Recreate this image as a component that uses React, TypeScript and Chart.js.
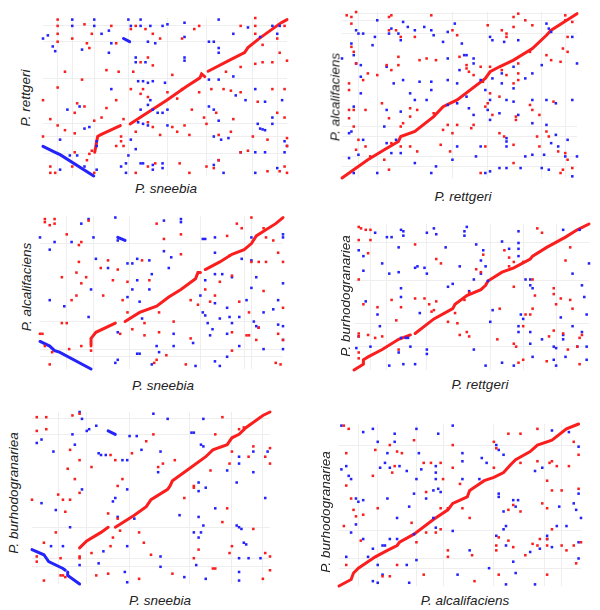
import React, { useEffect, useRef } from "react";
import { Chart, registerables } from "chart.js";
Chart.register(...registerables);

type P = [number, number];

// genome names
const GENOMES = ["P. sneebia", "P. rettgeri", "P. alcalifaciens", "P. burhodogranariea"];

// ---------- Panel 1: P. sneebia (x) vs P. rettgeri (y) ----------
const P1_DIAG: P[][] = [
  [[21.2,15],[22.4,25],[23.5,26],[31.7,31.9]],
  [[35.7,32.9],[41.2,38.5],[50.7,47.9],[58.8,56.7],[64.3,62.1],[65,64.6],[66.3,62.9]],
  [[67.7,66.3],[76.5,73.3],[82.6,78.1],[84,81.3],[88.7,87.1],[97.5,96.9],[100,99]],
];
const P1_INV: P[][] = [
  [[0,18.75],[5,15],[7,13.5],[20.8,0]],
  [[33,87],[35.5,85]],
];
const P1_RED: P[] = [[6,99],[6,95],[6,90],[6,85],[12,87],[17,96],[20,90],[18,84],[19,81],[28,95],[30,84],[36,93],[38,95],[42,93],[45,90],[48,87],[57,87],[62,93],[64,95],[81,95],[87,100],[87,95],[87,90],[96,87],[99,95],[90,83],[97,78],[100,73],[87,71],[90,72],[94,72],[81,69],[75,66],[53,64],[45,70],[43,75],[40,72],[37,66],[26,67],[31,66],[9,66],[0,48],[6,56],[16,61],[14,46],[17,44],[13,40],[26,43],[30,48],[36,55],[41,55],[40,52],[43,50],[51,53],[55,49],[57,55],[61,42],[64,53],[69,55],[74,55],[77,54],[81,53],[94,55],[99,55],[88,47],[96,40],[99,37],[71,40],[77,28],[86,25],[92,23],[100,24],[3,36],[6,32],[9,29],[13,27],[21,35],[24,37],[33,36],[38,28],[43,34],[45,31],[48,26],[55,28],[60,26],[58,32],[66,37],[67,33],[72,26],[78,36],[0,25],[3,6],[3,2],[5,2],[12,6],[13,15],[19,14],[20,16],[18,10],[38,2],[43,6],[46,8],[56,8],[60,2],[67,6],[70,5],[72,10],[81,15],[84,16],[92,3],[97,3],[99,6],[100,2],[100,19],[32,25],[32,22],[33,19],[30,19],[53,31],[21,2]];
const P1_BLUE: P[] = [[0,87],[2,89],[4,82],[5,79],[12,95],[12,99],[16,80],[21,99],[21,95],[24,90],[27,92],[27,78],[28,84],[35,99],[36,95],[40,99],[40,95],[44,95],[46,84],[43,85],[49,95],[51,96],[58,97],[58,88],[72,99],[68,85],[70,85],[72,81],[72,78],[78,90],[84,94],[89,88],[94,95],[97,95],[96,90],[38,72],[38,75],[42,72],[58,75],[58,73],[39,60],[41,60],[43,59],[45,60],[50,59],[68,61],[72,61],[78,63],[40,42],[43,45],[44,48],[45,42],[47,40],[49,40],[51,42],[39,34],[41,33],[43,32],[51,32],[28,55],[10,42],[15,44],[22,19],[19,31],[17,30],[22,22],[68,44],[70,42],[72,35],[87,55],[79,51],[83,48],[91,47],[98,48],[88,33],[89,30],[90,29.5],[91,29],[94,37],[94,33],[99,22],[100,19],[70,25],[73,23],[76,24],[81,15],[87,15],[91,15],[99,15],[7,23],[7,4],[11,13],[14,13],[36,23],[40,8],[41,8],[45,7],[49,8],[49,5],[45,4],[32,6],[34,8],[34,2],[70,7],[72,10],[74,2],[87,2],[96,5],[17,6],[22,4],[35,13],[38,17]];
const P1_GRID_X = [6, 12, 21, 35, 51, 67, 86, 96];
const P1_GRID_Y = [95, 85, 62, 33, 25, 14];

// ---------- Panel 2: P. rettgeri (x) vs P. alcalifaciens (y) ----------
const P2_DIAG: P[][] = [
  [[0,0],[11,11],[18,17],[24,22],[25,25],[31,28],[39,37],[43,43],[49,47],[61,60],[63,64],[67,67],[73,71],[81,78],[87,86],[89,89],[100,99]],
];
const P2_INV: P[][] = [];
const P2_RED: P[] = [[2,98],[4,97],[6,100],[4,93],[20,97],[21,98],[20,89],[23,89],[25,85],[31,85],[38,98],[47,89],[49,86],[62,92],[68,89],[70,87],[70,85],[73,91],[73,97],[75,99],[78,95],[81,92],[95,98],[95,95],[98,94],[96,85],[94,78],[96,76],[89,71],[93,70],[87,74],[80,76],[75,69],[75,63],[75,59],[73,57],[68,65],[70,62],[63,67],[59,67],[53,66],[54,64],[56,62],[60,58],[63,51],[67,49],[64,38],[62,45],[61,43],[74,37],[74,35],[80,44],[81,41],[84,38],[90,46],[83,25],[87,28],[88,25],[92,16],[95,15],[96,11],[94,5],[98,6],[93,3],[59,3],[73,9],[84,19],[73,20],[69,25],[67,27],[61,19],[56,32],[55,30],[49,32],[45,32],[43,29],[47,27],[46,16],[42,20],[32,16],[29,19],[25,19],[21,21],[20,5],[18,11],[12,13],[7,23],[6,17],[5,31],[3,41],[3,36],[5,41],[10,41],[10,19],[20,36],[25,31],[17,45],[21,65],[24,73],[24,68],[33,71],[36,72],[40,71],[50,73],[53,68],[3,57],[3,53],[4,79],[5,76],[6,69],[9,59],[11,63],[15,62],[19,68],[29,42],[26,33],[32,41],[29,37],[39,39]];
const P2_BLUE: P[] = [[0,72],[4,81],[6,89],[7,87],[9,87],[5,74],[6,69],[8,68],[13,80],[14,85],[15,95],[20,87],[21,90],[24,87],[25,83],[26,94],[28,91],[31,89],[35,91],[38,89],[39,86],[45,88],[48,93],[43,82],[45,72],[51,81],[52,74],[53,74],[56,72],[56,69],[63,85],[64,83],[69,82],[75,83],[87,93],[88,90],[89,88],[98,85],[100,69],[85,68],[81,63],[78,60],[73,67],[73,54],[68,57],[68,63],[64,60],[59,59],[61,53],[50,65],[49,57],[45,59],[38,58],[33,58],[29,51],[26,59],[22,57],[19,67],[8,61],[8,51],[5,43],[4,28],[3,27],[9,23],[7,14],[3,12],[5,3],[15,3],[19,21],[23,23],[18,31],[19,41],[25,40],[31,47],[36,47],[38,53],[45,44],[49,45],[53,49],[54,42],[56,38],[62,41],[63,47],[63,35],[67,39],[70,47],[73,46],[75,38],[81,47],[87,47],[91,45],[98,47],[81,33],[87,32],[89,21],[91,26],[95,13],[100,13],[96,23],[92,19],[86,14],[81,14],[78,13],[70,24],[70,22],[70,19],[70,6],[67,6],[63,4],[61,3],[59,19],[57,13],[49,19],[47,11],[38,3],[40,7],[31,9],[25,15],[21,15],[76,6],[98,1],[85,6],[88,5]];
const P2_GRID_X = [7, 15, 47, 62, 85, 95];
const P2_GRID_Y = [99, 95, 87, 31, 25, 13, 7];

// ---------- Panel 3: P. sneebia (x) vs P. alcalifaciens (y) ----------
const P3_DIAG: P[][] = [
  [[21,16],[21,20],[23,24],[31,30]],
  [[35,31],[41,37],[48,41],[53,47],[58,52],[64,59],[65,63],[66,63]],
  [[68,65],[74,70],[79,75],[84,78],[87,82],[89,87],[92,90],[97,95],[100,99]],
];
const P3_INV: P[][] = [
  [[0,18],[4,15],[6,12],[8,11],[21,0]],
  [[32,86],[35,84]],
];
const P3_RED: P[] = [[2,98],[2,96],[6,98],[4,94],[6,95],[11,88],[17,83],[16,81],[20,97],[16,70],[15,63],[9,60],[19,60],[17,56],[13,45],[15,48],[2,15],[5,11],[4,3],[21,12],[21,15],[17,15],[12,13],[11,30],[9,30],[25,66],[28,71],[32,65],[30,58],[36,57],[26,48],[36,37],[38,26],[42,71],[51,85],[58,88],[45,58],[43,30],[43,22],[49,24],[48,6],[47,4],[52,9],[60,3],[62,20],[62,45],[65,42],[68,52],[70,44],[72,48],[74,57],[77,87],[78,74],[81,95],[83,92],[87,99],[92,92],[93,86],[96,84],[98,76],[100,70],[87,70],[90,70],[93,70],[92,51],[86,37],[82,44],[79,24],[79,12],[86,22],[89,19],[90,27],[98,23],[100,19],[100,40],[97,4],[99,3],[55,31],[49,37],[79,61],[85,22],[34,45],[33,23],[48,95],[58,75],[0,23],[1,23]];
const P3_BLUE: P[] = [[0,86],[4,45],[6,83],[4,78],[10,41],[13,83],[17,95],[20,98],[22,86],[21,52],[20,34],[23,72],[31,99],[32,84],[28,66],[32,24],[32,6],[31,4],[36,69],[38,69],[40,72],[38,52],[36,47],[40,58],[41,44],[42,33],[46,62],[45,52],[51,77],[54,73],[53,66],[58,98],[58,96],[51,97],[45,71],[40,10],[41,10],[49,11],[48,15],[46,3],[55,15],[55,23],[67,85],[68,85],[72,86],[72,76],[72,62],[68,58],[66,48],[67,37],[68,35],[69,30],[72,43],[74,33],[77,40],[78,34],[79,30],[71,26],[70,22],[77,23],[75,62],[79,60],[82,34],[83,72],[87,71],[87,53],[88,31],[89,28],[90,27],[92,37],[96,39],[100,19],[100,13],[100,56],[100,88],[100,86],[98,45],[98,29],[100,28],[92,13],[82,15],[63,17],[64,2],[72,5],[74,2],[87,86],[85,45],[89,60],[77,8]];
const P3_GRID_X = [11, 22, 37, 66, 84, 87];
const P3_GRID_Y = [82, 31, 13, 8];

// ---------- Panel 4: P. rettgeri (x) vs P. burhodogranariea (y) ----------
const P4_DIAG: P[][] = [
  [[0,0],[4,4],[4,7],[6,9],[12,14],[19,21],[24,24]],
  [[26,25],[34,35],[42,42],[43,45],[48,51],[54,55],[56,58],[57,61],[63,67],[68,70],[75,76],[76,78],[82,84],[90,91],[95,96],[100,100]],
];
const P4_INV: P[][] = [];
const P4_RED: P[] = [[2,98],[3,97],[5,96],[7,96],[2,89],[7,89],[6,80],[2,62],[4,45],[2,25],[2,23],[2,12],[2,8],[6,24],[10,43],[9,22],[12,23],[16,48],[18,34],[20,43],[19,14],[26,86],[26,49],[30,49],[32,45],[33,40],[34,41],[35,47],[35,76],[37,73],[40,33],[43,39],[44,32],[45,24],[47,48],[48,26],[49,23],[49,53],[52,69],[54,67],[55,79],[61,21],[62,42],[64,82],[66,77],[66,71],[68,18],[69,16],[72,30],[73,38],[70,5],[72,7],[75,38],[76,42],[77,51],[78,97],[80,94],[85,56],[85,52],[86,45],[88,49],[85,27],[83,23],[82,6],[89,25],[90,75],[92,48],[93,42],[95,16],[96,4],[96,22],[97,24],[91,14],[92,84],[72,74],[76,62],[68,57],[68,74]];
const P4_BLUE: P[] = [[2,82],[4,78],[4,68],[5,47],[7,16],[1,15],[2,23],[9,94],[10,38],[11,30],[12,73],[14,91],[15,66],[16,91],[19,84],[20,96],[21,95],[21,92],[19,67],[20,56],[20,50],[20,22],[22,22],[23,22],[19,12],[15,3],[21,4],[26,4],[24,16],[26,70],[27,71],[31,94],[31,66],[30,70],[28,39],[31,14],[31,11],[34,97],[35,93],[39,84],[40,57],[42,59],[45,71],[47,95],[47,92],[48,98],[52,86],[55,82],[54,75],[51,62],[54,66],[56,71],[49,54],[57,61],[59,41],[58,33],[51,14],[56,3],[63,88],[66,83],[70,87],[70,95],[70,78],[73,62],[75,62],[75,58],[76,56],[71,38],[72,35],[70,30],[70,26],[75,26],[75,18],[76,9],[80,21],[85,16],[86,15],[85,7],[86,3],[89,24],[89,21],[90,9],[95,16],[99,16],[99,7],[93,30],[97,26],[99,38],[93,66],[97,58],[98,50],[100,73],[89,96],[96,96],[68,3],[63,5],[88,36],[70,83]];
const P4_GRID_X = [7, 14, 31, 58, 72, 86];
const P4_GRID_Y = [87, 61, 32, 16];

// ---------- Panel 5: P. sneebia (x) vs P. burhodogranariea (y) ----------
const P5_DIAG: P[][] = [
  [[20,21],[23,25],[29,30],[32,33]],
  [[35,33],[43,40],[48,45],[50,49],[57,55],[58,57],[59,60],[65,66],[73,74],[76,78],[82,81],[84,85],[87,87],[90,91],[97,98],[100,100]],
];
const P5_INV: P[][] = [
  [[0,20],[5,17],[7,13],[13,9],[14,8]],
  [[15,7],[15,5],[20,0]],
  [[32,89],[35,87]],
];
const P5_RED: P[] = [[2,97],[6,97],[2,89],[6,90],[17,98],[20,99],[16,78],[20,72],[15,67],[18,61],[20,53],[11,52],[13,49],[16,49],[0,49],[14,42],[10,30],[5,24],[12,15],[20,16],[20,15],[14,4],[5,2],[2,16],[2,13],[25,68],[33,75],[35,72],[38,61],[36,57],[32,41],[36,38],[37,31],[34,27],[33,22],[42,76],[48,83],[51,87],[53,68],[55,70],[60,72],[64,50],[68,57],[68,56],[68,15],[70,20],[76,9],[77,9],[75,66],[77,87],[80,97],[87,90],[89,91],[93,80],[100,79],[91,74],[98,74],[100,70],[83,70],[84,77],[82,44],[80,36],[84,22],[83,18],[93,32],[98,18],[100,16],[100,8],[97,3],[59,6],[45,3],[50,17],[47,24],[45,30],[27,5],[32,6],[25,18],[12,5],[13,5]];
const P5_BLUE: P[] = [[2,82],[4,84],[9,77],[17,87],[18,81],[20,100],[21,96],[23,89],[24,90],[27,92],[21,55],[4,47],[10,43],[16,33],[13,22],[28,76],[29,75],[31,75],[35,50],[34,48],[36,39],[38,72],[40,72],[41,86],[44,86],[46,78],[40,55],[43,38],[51,99],[57,96],[54,77],[53,65],[62,40],[67,88],[68,88],[72,96],[71,81],[72,80],[70,59],[70,54],[73,56],[77,44],[82,66],[87,74],[87,70],[93,65],[93,77],[99,77],[98,50],[86,59],[86,34],[87,33],[88,32],[89,24],[90,23],[91,15],[87,15],[96,15],[87,7],[87,2],[70,39],[72,34],[71,30],[68,30],[70,27],[73,3],[69,11],[64,4],[54,16],[54,10],[39,7],[40,1],[28,12],[30,19],[8,22],[40,22],[20,11]];
const P5_GRID_X = [11, 23, 41, 66, 84, 97];
const P5_GRID_Y = [96, 87, 33, 15, 10];

// ---------- Panel 6: P. alcalifaciens (x) vs P. burhodogranariea (y) ----------
const P6_DIAG: P[][] = [
  [[0,0],[5,4],[6,8],[8,11],[15,18],[20,22],[24,25],[25,27],[31,32],[39,41],[45,47],[47,51],[53,55],[54,59],[60,65],[64,67],[68,70],[71,75],[73,78],[79,83],[82,87],[88,90],[94,97],[99,100]],
];
const P6_INV: P[][] = [];
const P6_RED: P[] = [[2,99],[4,97],[3,82],[3,62],[5,54],[6,47],[7,43],[2,37],[3,13],[9,28],[10,44],[15,84],[14,68],[16,48],[21,87],[22,70],[23,74],[24,83],[26,82],[31,90],[35,76],[36,58],[38,76],[42,76],[43,66],[42,48],[45,48],[51,48],[54,42],[50,63],[47,73],[47,87],[55,19],[56,3],[45,18],[45,22],[42,35],[40,33],[36,33],[32,27],[30,39],[24,13],[35,7],[21,6],[18,6],[64,89],[65,85],[64,73],[70,94],[75,94],[75,76],[82,97],[87,76],[88,77],[90,74],[95,74],[82,77],[86,65],[88,59],[92,59],[99,60],[97,89],[99,81],[84,51],[86,48],[88,35],[86,29],[86,25],[83,29],[82,25],[80,26],[92,25],[94,22],[97,25],[98,14],[100,27],[86,7],[66,7],[65,25],[65,22],[66,30],[72,50],[70,47],[70,28],[75,46],[72,24],[77,19]];
const P6_BLUE: P[] = [[1,99],[10,95],[14,97],[23,94],[23,89],[20,82],[16,89],[19,76],[21,73],[25,74],[28,71],[32,97],[33,82],[34,72],[32,66],[41,94],[40,74],[40,70],[40,66],[41,60],[42,58],[47,99],[51,82],[51,77],[51,66],[39,59],[36,54],[31,57],[29,49],[24,42],[20,54],[17,73],[10,53],[8,52],[5,66],[4,68],[1,72],[3,74],[7,54],[7,38],[5,33],[3,18],[10,29],[12,18],[14,23],[16,13],[18,25],[19,25],[18,7],[14,3],[16,2],[21,29],[24,29],[28,13],[29,2],[32,16],[31,32],[39,42],[40,36],[47,34],[49,7],[54,22],[61,76],[65,87],[66,84],[68,81],[66,57],[66,55],[68,46],[69,37],[68,35],[65,31],[72,53],[74,53],[73,49],[69,25],[72,15],[73,8],[69,1],[79,21],[81,1],[84,73],[81,71],[88,96],[95,95],[99,86],[86,31],[86,29],[83,23],[88,24],[99,17],[99,57],[98,47],[97,51],[99,27],[100,42],[91,49],[90,37],[94,37],[59,79],[58,66],[62,11]];
const P6_GRID_X = [8, 16, 32, 43, 64, 85, 92];
const P6_GRID_Y = [87, 34, 17, 11];

const RED = "rgb(250,30,30)";
const BLUE = "rgb(35,35,250)";

type PanelDef = {
  red: P[]; blue: P[]; diag: P[][]; inv: P[][]; gx: number[]; gy: number[];
  xName: string; yName: string;
  box: { l: number; t: number; w: number; h: number };
  xLab: { x: number; y: number }; yLab: { x: number; y: number };
};

const PANELS: PanelDef[] = [
  { red: P1_RED, blue: P1_BLUE, diag: P1_DIAG, inv: P1_INV, gx: P1_GRID_X, gy: P1_GRID_Y, xName: GENOMES[0], yName: GENOMES[1],
    box: { l: 42, t: 17, w: 246, h: 160 }, xLab: { x: 166, y: 188 }, yLab: { x: 25, y: 98 } },
  { red: P2_RED, blue: P2_BLUE, diag: P2_DIAG, inv: P2_INV, gx: P2_GRID_X, gy: P2_GRID_Y, xName: GENOMES[1], yName: GENOMES[2],
    box: { l: 341, t: 11, w: 237, h: 168 }, xLab: { x: 463, y: 196 }, yLab: { x: 335, y: 97 } },
  { red: P3_RED, blue: P3_BLUE, diag: P3_DIAG, inv: P3_INV, gx: P3_GRID_X, gy: P3_GRID_Y, xName: GENOMES[0], yName: GENOMES[2],
    box: { l: 39, t: 215, w: 245, h: 155 }, xLab: { x: 163, y: 385 }, yLab: { x: 26, y: 287 } },
  { red: P4_RED, blue: P4_BLUE, diag: P4_DIAG, inv: P4_INV, gx: P4_GRID_X, gy: P4_GRID_Y, xName: GENOMES[1], yName: GENOMES[3],
    box: { l: 353, t: 223, w: 237, h: 148 }, xLab: { x: 480, y: 384 }, yLab: { x: 345, y: 296 } },
  { red: P5_RED, blue: P5_BLUE, diag: P5_DIAG, inv: P5_INV, gx: P5_GRID_X, gy: P5_GRID_Y, xName: GENOMES[0], yName: GENOMES[3],
    box: { l: 31, t: 411, w: 240, h: 174 }, xLab: { x: 160, y: 600 }, yLab: { x: 13, y: 493 } },
  { red: P6_RED, blue: P6_BLUE, diag: P6_DIAG, inv: P6_INV, gx: P6_GRID_X, gy: P6_GRID_Y, xName: GENOMES[2], yName: GENOMES[3],
    box: { l: 338, t: 423, w: 244, h: 164 }, xLab: { x: 465, y: 600 }, yLab: { x: 325, y: 512 } },
];

const PAD = 3;
const toXY = (arr: P[]) => arr.map(([x, y]) => ({ x, y }));

function Panel({ def }: { def: PanelDef }) {
  const ref = useRef<HTMLCanvasElement>(null);
  useEffect(() => {
    if (!ref.current) return;
    const lineSet = (seg: P[], color: string) => ({
      data: toXY(seg), showLine: true, borderColor: color, backgroundColor: color,
      borderWidth: 3, pointRadius: 0, clip: false as any, borderCapStyle: "round" as const,
    });
    const dotSet = (pts: P[], color: string) => ({
      data: toXY(pts), pointRadius: 1.8, pointStyle: "rect", pointBorderWidth: 0, backgroundColor: color,
      borderColor: color, clip: false as any, showLine: false,
    });
    const datasets: any[] = [
      dotSet(def.red, RED),
      dotSet(def.blue, BLUE),
      ...def.diag.map((s) => lineSet(s, RED)),
      ...def.inv.map((s) => lineSet(s, BLUE)),
    ];
    const axis = (vals: number[]) => ({
      type: "linear" as const, min: 0, max: 100,
      ticks: { display: false },
      border: { display: false },
      grid: { color: "#eeeeee", lineWidth: 1, drawTicks: false },
      afterBuildTicks: (s: any) => { s.ticks = vals.map((v) => ({ value: v })); },
    });
    const chart = new Chart(ref.current, {
      type: "scatter",
      data: { datasets },
      options: {
        animation: false, responsive: false, maintainAspectRatio: false,
        layout: { padding: PAD },
        plugins: { legend: { display: false }, tooltip: { enabled: false } },
        scales: { x: axis(def.gx), y: axis(def.gy) },
      },
    });
    return () => chart.destroy();
  }, [def]);
  const { l, t, w, h } = def.box;
  const font = 'italic 13.5px "Liberation Sans", Arial, sans-serif';
  return (
    <>
      <canvas ref={ref} width={w + 2 * PAD} height={h + 2 * PAD}
        style={{ position: "absolute", left: l - PAD, top: t - PAD, width: w + 2 * PAD, height: h + 2 * PAD }} />
      <div style={{ position: "absolute", left: def.xLab.x, top: def.xLab.y, transform: "translate(-50%,-50%)", font, color: "#222", whiteSpace: "nowrap" }}>
        {def.xName}
      </div>
      <div style={{ position: "absolute", left: def.yLab.x, top: def.yLab.y, transform: "translate(-50%,-50%) rotate(-90deg)", font, color: "#222", whiteSpace: "nowrap" }}>
        {def.yName}
      </div>
    </>
  );
}

export default function App() {
  return (
    <div style={{ position: "absolute", left: 0, top: 0, width: 600, height: 610, background: "#fff", overflow: "hidden" }}>
      {PANELS.map((p, i) => <Panel key={i} def={p} />)}
    </div>
  );
}
